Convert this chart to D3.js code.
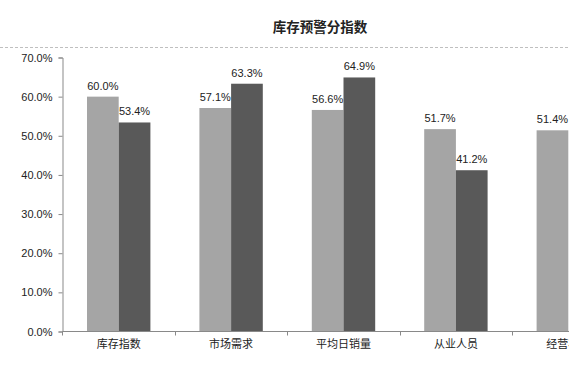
<!DOCTYPE html>
<html>
<head>
<meta charset="utf-8">
<script src="https://cdn.jsdelivr.net/npm/d3@7"></script>
<style>
	body { margin: 0; background: #fff; }
	svg { display: block; }
	text { font-family: "Liberation Sans", "Noto Sans CJK SC", sans-serif; fill: #222; }
</style>
</head>
<body>
<svg width="569" height="365"></svg>
<script>
	// data
	var title = '库存预警分指数';
	var categories = ['库存指数', '市场需求', '平均日销量', '从业人员', '经营状况'];
	var seriesA = [60.0, 57.1, 56.6, 51.7, 51.4];   // light bars
	var seriesB = [53.4, 63.3, 64.9, 41.2, null];   // dark bars (last one lies past the right edge, not readable)
	var yTicks = [0, 10, 20, 30, 40, 50, 60, 70];
	var colors = ['#a5a5a5', '#595959'];

	var svg = d3.select('svg');
	var axisColor = '#898989';

	// title + dashed rule
	svg.append('text')
		.attr('x', 320)
		.attr('y', 32)
		.attr('text-anchor', 'middle')
		.style('font-size', '13.5px')
		.style('font-weight', 'bold')
		.text(title);

	svg.append('line')
		.attr('x1', 0).attr('x2', 570)
		.attr('y1', 47.5).attr('y2', 47.5)
		.style('stroke', '#bfbfbf')
		.style('stroke-dasharray', '3,2');

	// scales - plot runs wider than the window, so the last group is clipped
	var x = d3.scaleBand().domain(categories)
		.range([62.5, 624.5])
		.paddingInner(0.436)
		.paddingOuter(0.218);
	var x1 = d3.scaleBand().domain([0, 1]).range([0, x.bandwidth()]);
	var y = d3.scaleLinear().domain([0, 70]).range([331.5, 57.5]);

	// y axis
	var yAxis = svg.append('g')
		.attr('transform', 'translate(62.5,0)')
		.call(d3.axisLeft(y).tickValues(yTicks).tickSize(4).tickPadding(6)
			.tickFormat(function(d) { return d.toFixed(1) + '%'; }));
	yAxis.select('.domain').style('stroke', axisColor);
	yAxis.selectAll('line').style('stroke', axisColor);
	yAxis.selectAll('text').style('font-size', '11px').style('font-family', '"Liberation Sans", sans-serif').style('fill', '#222');

	// bars
	var rows = categories.map(function(c, i) {
		return { cat: c, vals: [seriesA[i], seriesB[i]].map(function(v, k) { return { k: k, v: v }; })
			.filter(function(o) { return o.v != null; }) };
	});

	var groups = svg.selectAll('g.grp').data(rows)
		.enter().append('g')
			.attr('class', 'grp')
			.attr('transform', function(d) { return 'translate(' + x(d.cat) + ',0)'; });

	groups.selectAll('rect').data(function(d) { return d.vals; })
		.enter().append('rect')
			.attr('x', function(d) { return x1(d.k); })
			.attr('y', function(d) { return y(d.v); })
			.attr('width', x1.bandwidth())
			.attr('height', function(d) { return y(0) - y(d.v); })
			.style('fill', function(d) { return colors[d.k]; });

	groups.selectAll('text.val').data(function(d) { return d.vals; })
		.enter().append('text')
			.attr('class', 'val')
			.attr('x', function(d) { return x1(d.k) + x1.bandwidth() / 2; })
			.attr('y', function(d) { return y(d.v) - 7; })
			.attr('text-anchor', 'middle')
			.style('font-size', '11px')
			.text(function(d) { return d.v.toFixed(1) + '%'; });

	// x axis: baseline, ticks between categories, labels
	svg.append('line')
		.attr('x1', 62.5).attr('x2', 570)
		.attr('y1', 331.5).attr('y2', 331.5)
		.style('stroke', axisColor);

	var half = (x.step() - x.bandwidth()) / 2;
	svg.selectAll('line.xt').data(categories)
		.enter().append('line')
			.attr('class', 'xt')
			.attr('x1', function(d) { return Math.round(x(d) - half) + 0.5; })
			.attr('x2', function(d) { return Math.round(x(d) - half) + 0.5; })
			.attr('y1', 331.5).attr('y2', 335.5)
			.style('stroke', axisColor);

	svg.selectAll('text.cat').data(categories)
		.enter().append('text')
			.attr('class', 'cat')
			.attr('x', function(d) { return x(d) + x.bandwidth() / 2; })
			.attr('y', 348)
			.attr('text-anchor', 'middle')
			.style('font-size', '11px')
			.style('font-family', '"Noto Sans CJK SC", sans-serif')
			.text(function(d) { return d; });
</script>
</body>
</html>
